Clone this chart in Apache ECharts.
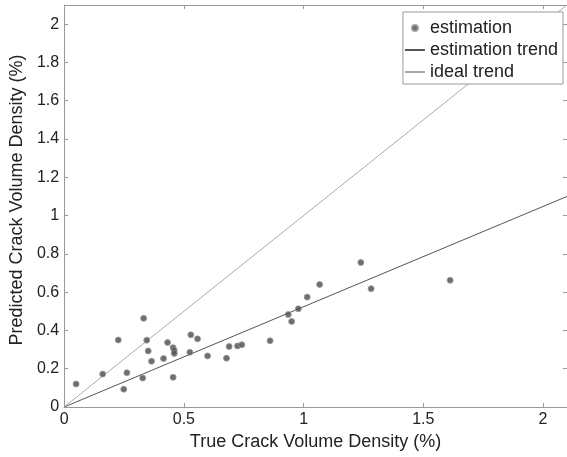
<!DOCTYPE html>
<html>
<head>
<meta charset="utf-8">
<script src="https://cdn.jsdelivr.net/npm/echarts@6/dist/echarts.min.js"></script>
<style>html,body{margin:0;padding:0;background:#fff;}#c{width:567px;height:457px;}</style>
</head>
<body>
<div id="c"></div>
<script>
const trueDensity = [0.05,0.161,0.226,0.262,0.249,0.332,0.345,0.351,0.365,0.328,0.432,0.415,0.455,0.46,0.46,0.455,0.529,0.557,0.525,0.599,0.678,0.689,0.724,0.742,0.86,0.936,0.95,0.978,1.015,1.067,1.239,1.282,1.612];
const predictedDensity = [0.12,0.172,0.35,0.179,0.093,0.463,0.349,0.293,0.239,0.151,0.337,0.253,0.31,0.295,0.28,0.155,0.377,0.356,0.286,0.267,0.255,0.316,0.319,0.325,0.346,0.483,0.447,0.513,0.574,0.64,0.755,0.618,0.662];
const estTrendX = [0, 2.1];
const estTrendY = [0, 1.1];
const idealX = [0, 2.1];
const idealY = [0, 2.1];
const xTicks = [0, 0.5, 1, 1.5, 2];
const yTicks = [0, 0.2, 0.4, 0.6, 0.8, 1, 1.2, 1.4, 1.6, 1.8, 2];

const pts = trueDensity.map((x,i)=>[x,predictedDensity[i]]);
const chart = echarts.init(document.getElementById('c'));
const font = 'Liberation Sans, Arial, sans-serif';
const tick = {show:true, inside:true, length:4, lineStyle:{color:'#999'}};
const axLine = {show:true, onZero:false, lineStyle:{color:'#999', width:1}};
const matchTick = (list, v) => { const t = list.find(t=>Math.abs(t-v)<1e-6); return t === undefined ? '' : String(t); };
chart.setOption({
  animation:false,
  grid:{left:63, top:5, right:0, bottom:50, containLabel:false},
  xAxis:[{
    type:'value', min:0, max:2.1, interval:0.5,
    axisLine:axLine, axisTick:tick, splitLine:{show:false},
    axisLabel:{color:'#222', fontSize:16, fontFamily:font, margin:5, showMaxLabel:false,
      formatter:v=> matchTick(xTicks, v)},
    name:'True Crack Volume Density (%)', nameLocation:'middle', nameGap:25,
    nameTextStyle:{color:'#222', fontSize:18, fontFamily:font}
  },{
    type:'value', position:'top', min:0, max:2.1, interval:0.5,
    axisLine:axLine, axisTick:tick, axisLabel:{show:false}, splitLine:{show:false}
  }],
  yAxis:[{
    type:'value', min:0, max:2.1, interval:0.2,
    axisLine:axLine, axisTick:tick, splitLine:{show:false},
    axisLabel:{color:'#222', fontSize:16, fontFamily:font, margin:5, showMaxLabel:false,
      formatter:v=> matchTick(yTicks, v)},
    name:'Predicted Crack Volume Density (%)', nameLocation:'middle', nameGap:37,
    nameTextStyle:{color:'#222', fontSize:18, fontFamily:font, padding:[0,0,0,12]}
  },{
    type:'value', position:'right', min:0, max:2.1, interval:0.2,
    axisLine:axLine, axisTick:tick, axisLabel:{show:false}, splitLine:{show:false}
  }],
  legend:{
    show:true, right:4, top:12, orient:'vertical', itemGap:4, itemWidth:20, itemHeight:6,
    backgroundColor:'#fff', borderColor:'#999', borderWidth:1, padding:[7,5,3,1],
    textStyle:{color:'#222', fontSize:18, fontFamily:font},
    data:[
      {name:'estimation'},
      {name:'estimation trend', itemStyle:{opacity:0}},
      {name:'ideal trend', itemStyle:{opacity:0}}
    ]
  },
  series:[
    {name:'estimation', type:'scatter', data:pts, symbol:'circle', symbolSize:6,
      itemStyle:{color:'#4a4a4a', borderColor:'#999', borderWidth:1}, z:5},
    {name:'estimation trend', type:'line', data:estTrendX.map((x,i)=>[x,estTrendY[i]]),
      symbol:'none', lineStyle:{color:'#555', width:1}, itemStyle:{color:'#555'}},
    {name:'ideal trend', type:'line', data:idealX.map((x,i)=>[x,idealY[i]]),
      symbol:'none', lineStyle:{color:'#aaa', width:1}, itemStyle:{color:'#aaa'}}
  ]
});
</script>
</body>
</html>
